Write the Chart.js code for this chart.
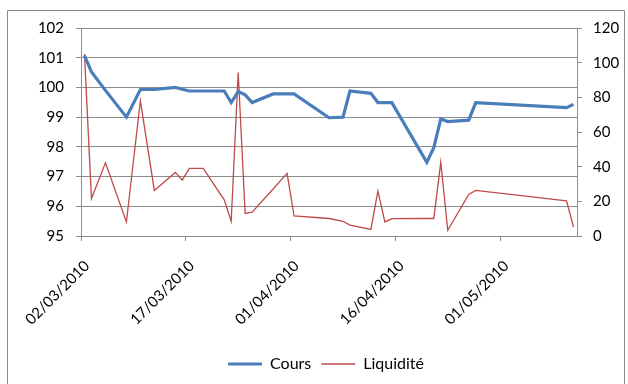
<!DOCTYPE html>
<html>
<head>
<meta charset="utf-8">
<script src="https://cdn.jsdelivr.net/npm/chart.js@4"></script>
<style>
  html, body { margin: 0; padding: 0; background: #fff; }
  #wrap { width: 628px; height: 384px; position: relative; }
</style>
</head>
<body>
<div id="wrap"><canvas id="chart"></canvas></div>
<script>
// dates de cotation (jj/mm/aaaa)
const dates = ['02/03/2010', '03/03/2010', '05/03/2010', '08/03/2010', '10/03/2010', '12/03/2010',
    '15/03/2010', '16/03/2010', '17/03/2010', '19/03/2010', '22/03/2010', '23/03/2010',
    '24/03/2010', '25/03/2010', '26/03/2010', '29/03/2010', '31/03/2010', '01/04/2010',
    '06/04/2010', '08/04/2010', '09/04/2010', '12/04/2010', '13/04/2010', '14/04/2010',
    '15/04/2010', '20/04/2010', '21/04/2010', '22/04/2010', '23/04/2010', '26/04/2010',
    '27/04/2010', '10/05/2010', '11/05/2010'];

const cours = [101.07, 100.52, 99.9, 99.0, 99.93, 99.93, 100.0, 99.94, 99.88, 99.88, 99.88, 99.49,
    99.86, 99.75, 99.49, 99.78, 99.78, 99.78, 98.98, 99.0, 99.88, 99.8, 99.49, 99.49,
    99.49, 97.48, 97.97, 98.94, 98.85, 98.9, 99.49, 99.32, 99.43];

const liquidite = [105, 21.6, 42.2, 8.1, 78, 26.3, 36.7, 32.2, 39, 39, 20.9, 8.5,
    94.3, 13, 13.7, 27.1, 36.1, 11.6, 10.1, 8.5, 6.3, 3.8, 26, 8.1,
    10, 10.1, 10.1, 42.5, 3.3, 24, 26.3, 20.3, 5.2];

const tickLabels = ['02/03/2010', '17/03/2010', '01/04/2010', '16/04/2010', '01/05/2010'];
const lastDay = '12/05/2010'; // fin de l'axe des dates

const FONT = 'Lato, "Open Sans", sans-serif';
const GRID = '#8c8c8c';

function dayIndex(str) {
    const [d, m, y] = str.split('/').map(Number);
    const t0 = Date.UTC(2010, 2, 2);
    return Math.round((Date.UTC(y, m - 1, d) - t0) / 86400000);
}

function dayLabel(n) {
    const dt = new Date(Date.UTC(2010, 2, 2) + n * 86400000);
    const dd = String(dt.getUTCDate()).padStart(2, '0');
    const mm = String(dt.getUTCMonth() + 1).padStart(2, '0');
    return dd + '/' + mm + '/' + dt.getUTCFullYear();
}

// cadre de la zone du graphique
const framePlugin = {
    id: 'frame',
    beforeDraw(chart) {
        const ctx = chart.ctx;
        ctx.save();
        ctx.fillStyle = '#fff';
        ctx.fillRect(0, 0, chart.width, chart.height);
        ctx.strokeStyle = '#8a8a8a';
        ctx.lineWidth = 1;
        ctx.beginPath();
        ctx.moveTo(7.5, chart.height + 2);
        ctx.lineTo(7.5, 10.5);
        ctx.lineTo(624.5, 10.5);
        ctx.lineTo(624.5, chart.height + 2);
        ctx.stroke();
        ctx.restore();
    }
};

const toPoints = values => dates.map((d, i) => ({ x: dayIndex(d) + 0.5, y: values[i] }));

new Chart(document.getElementById('chart'), {
    type: 'line',
    data: {
        datasets: [
            {
                label: 'Cours',
                data: toPoints(cours),
                yAxisID: 'y',
                borderColor: '#4a7ebb',
                backgroundColor: '#4a7ebb',
                borderWidth: 3.2,
                pointRadius: 0,
                tension: 0
            },
            {
                label: 'Liquidité',
                data: toPoints(liquidite),
                yAxisID: 'y2',
                borderColor: '#be4b48',
                backgroundColor: '#be4b48',
                borderWidth: 1.3,
                pointRadius: 0,
                tension: 0
            }
        ]
    },
    options: {
        responsive: true,
        maintainAspectRatio: false,
        animation: false,
        layout: { padding: { top: 28, left: 24, right: 0, bottom: 2 } },
        plugins: {
            legend: {
                position: 'bottom',
                labels: {
                    font: { family: FONT, size: 16 },
                    color: '#000',
                    boxWidth: 34,
                    boxHeight: 0,
                    padding: 10
                }
            },
            tooltip: { enabled: false }
        },
        scales: {
            x: {
                type: 'linear',
                min: 0,
                max: dayIndex(lastDay),
                afterBuildTicks: scale => {
                    scale.ticks = tickLabels.map(t => ({ value: dayIndex(t) }));
                },
                afterFit: scale => { scale.height = 110; },
                grid: { drawOnChartArea: false, tickLength: 5, color: GRID },
                border: { color: GRID, width: 1 },
                ticks: {
                    autoSkip: false,
                    minRotation: 45,
                    maxRotation: 45,
                    padding: 16,
                    labelOffset: 6,
                    color: '#000',
                    font: { family: FONT, size: 15 },
                    callback: v => dayLabel(v)
                }
            },
            y: {
                position: 'left',
                min: 95,
                max: 102,
                afterFit: scale => { scale.width = 57; },
                grid: { color: GRID, lineWidth: 1, tickLength: 5 },
                border: { color: GRID, width: 1 },
                ticks: {
                    stepSize: 1,
                    padding: 12,
                    color: '#000',
                    font: { family: FONT, size: 15 }
                }
            },
            y2: {
                position: 'right',
                min: 0,
                max: 120,
                afterFit: scale => { scale.width = 51; },
                grid: { drawOnChartArea: false, color: GRID, tickLength: 5 },
                border: { color: GRID, width: 1 },
                ticks: {
                    stepSize: 20,
                    padding: 11,
                    color: '#000',
                    font: { family: FONT, size: 15 }
                }
            }
        }
    },
    plugins: [framePlugin]
});
</script>
</body>
</html>
